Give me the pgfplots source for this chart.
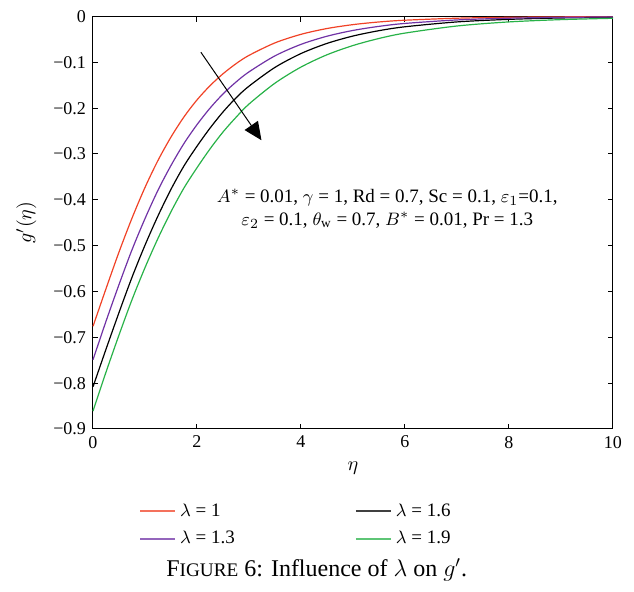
\documentclass[border=0pt]{standalone}
\usepackage{pgfplots}
\usepackage{pgfplotstable}
\pgfplotsset{compat=1.18}
\usepackage{fontspec}
\setmainfont{Liberation Serif}
\usetikzlibrary{arrows.meta}

\definecolor{cred}{RGB}{240,66,38}
\definecolor{cpurple}{RGB}{112,50,165}
\definecolor{cgreen}{RGB}{40,178,72}

% eta  g'(eta)
\pgfplotstableread{
x y
0 -0.676
0.25 -0.594
0.5 -0.514
0.75 -0.440
1 -0.373
1.25 -0.314
1.5 -0.263
1.75 -0.219
2 -0.182
2.25 -0.151
2.5 -0.125
2.75 -0.103
3 -0.0848
3.5 -0.0575
4 -0.0389
4.5 -0.0262
5 -0.0177
5.5 -0.0119
6 -0.0081
7 -0.0037
8 -0.0017
9 -0.0008
10 -0.0003
}\lamA
\pgfplotstableread{
x y
0 -0.749
0.25 -0.665
0.5 -0.585
0.75 -0.509
1 -0.441
1.25 -0.379
1.5 -0.325
1.75 -0.277
2 -0.236
2.25 -0.200
2.5 -0.169
2.75 -0.143
3 -0.1208
3.5 -0.0858
4 -0.0608
4.5 -0.0430
5 -0.0304
5.5 -0.0215
6 -0.0151
7 -0.0075
8 -0.0037
9 -0.0019
10 -0.0009
}\lamB
\pgfplotstableread{
x y
0 -0.808
0.25 -0.726
0.5 -0.646
0.75 -0.569
1 -0.499
1.25 -0.435
1.5 -0.377
1.75 -0.326
2 -0.283
2.25 -0.2436
2.5 -0.2083
2.75 -0.1776
3 -0.152
3.5 -0.111
4 -0.0808
4.5 -0.0587
5 -0.0426
5.5 -0.0309
6 -0.0224
7 -0.0118
8 -0.0062
9 -0.0032
10 -0.0017
}\lamC
\pgfplotstableread{
x y
0 -0.861
0.25 -0.776
0.5 -0.695
0.75 -0.618
1 -0.548
1.25 -0.484
1.5 -0.426
1.75 -0.374
2 -0.330
2.25 -0.289
2.5 -0.252
2.75 -0.220
3 -0.191
3.5 -0.1454
4 -0.1103
4.5 -0.0835
5 -0.0633
5.5 -0.0479
6 -0.0362
7 -0.0207
8 -0.0118
9 -0.0068
10 -0.0039
}\lamD

\begin{document}
\begin{tikzpicture}
\path[use as bounding box] (-46.5pt,-81.5pt) rectangle (270.5pt,214.5pt);
\begin{axis}[
    scale only axis,
    width=260pt, height=206.25pt,
    xmin=0, xmax=10, ymin=-0.9, ymax=0,
    xtick={0,2,4,6,8,10},
    xticklabels={0,2,4,6,8,10},
    ytick={-0.9,-0.8,-0.7,-0.6,-0.5,-0.4,-0.3,-0.2,-0.1,0},
    yticklabels={−0.9,−0.8,−0.7,−0.6,−0.5,−0.4,−0.3,−0.2,−0.1,0},
    tick label style={font=\fontsize{9}{10}\selectfont},
    major tick length=2.5pt,
    axis line style={line width=0.5pt},
    tick style={line width=0.5pt, black},
    xlabel={$\eta$},
    ylabel={$g'(\eta)$},
    label style={font=\fontsize{10}{11}\selectfont},
    xlabel style={at={(axis description cs:0.5,0)}, anchor=center, yshift=-19.5pt},
    ylabel style={anchor=center, rotate=0},
    every axis y label/.append style={at={(axis description cs:-0.128,0.5)}},
    clip=false,
    legend columns=2,
    legend cell align=left,
    legend style={
        draw=none, fill=none, inner sep=0pt,
        at={(axis description cs:0.088,-0.17)}, anchor=north west,
        font=\fontsize{9.5}{11}\selectfont,
        row sep=2pt,
        /tikz/every even column/.append style={column sep=58pt},
    },
    legend image code/.code={\draw[#1, line width=1pt, opacity=0.75] (0pt,0pt) -- (17.5pt,0pt);},
]
\addplot[cred, line width=0.6pt, smooth] table[x=x, y=y] {\lamA};
\addlegendentry{$\lambda$ = 1}
\addplot[black, line width=0.6pt, smooth] table[x=x, y=y] {\lamC};
\addlegendentry{$\lambda$ = 1.6}
\addplot[cpurple, line width=0.6pt, smooth] table[x=x, y=y] {\lamB};
\addlegendentry{$\lambda$ = 1.3}
\addplot[cgreen, line width=0.6pt, smooth] table[x=x, y=y] {\lamD};
\addlegendentry{$\lambda$ = 1.9}
\draw[black, line width=0.5pt, -{Triangle[length=9pt, width=8pt]}]
    (axis cs:2.075,-0.078) -- (axis cs:3.24,-0.270);
\node[align=center, font=\fontsize{9.5}{11.5}\selectfont] at (axis cs:5.66,-0.419)
    {$A^{*}$ = 0.01, $\gamma$ = 1, Rd = 0.7, Sc = 0.1, $\varepsilon_{1}$=0.1,\\
     $\varepsilon_{2}$ = 0.1, $\theta_{\mathrm{w}}$ = 0.7, $B^{*}$ = 0.01, Pr = 1.3};
\end{axis}
\node[font=\fontsize{12}{14}\selectfont] at (111.85pt,-70.5pt)
    {F{\fontsize{9.6}{12}\selectfont IGURE} 6: Influence of $\lambda$ on $g'$.};
\end{tikzpicture}
\end{document}
